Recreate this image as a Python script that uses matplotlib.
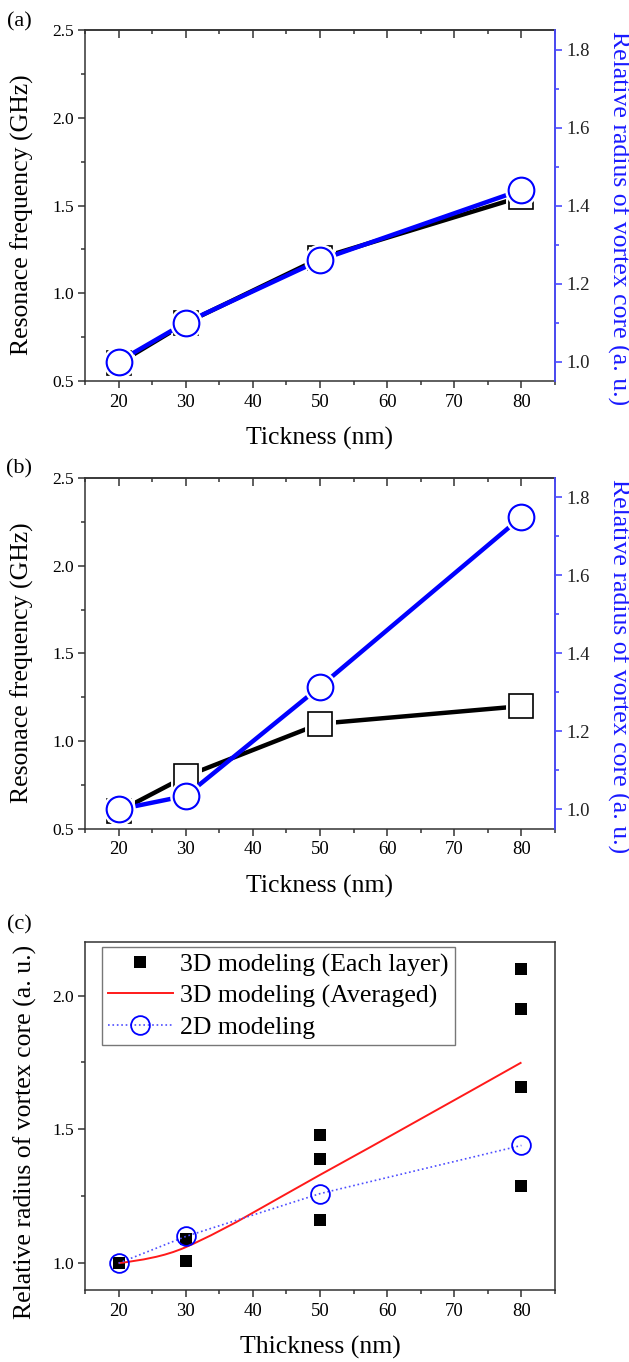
import numpy as np
import matplotlib
matplotlib.use('Agg')
import matplotlib.pyplot as plt
from matplotlib.ticker import MultipleLocator
from matplotlib.path import Path
from matplotlib.patches import PathPatch
from matplotlib.lines import Line2D

plt.rcParams['font.family'] = ['Liberation Serif', 'DejaVu Serif']

# данные
thickness = [20, 30, 50, 80]
freq_a = [0.60, 0.83, 1.20, 1.55]
radius_a = [1.00, 1.10, 1.26, 1.44]
freq_b = [0.60, 0.80, 1.10, 1.20]
radius_b = [1.00, 1.035, 1.315, 1.75]
layer_x = [20, 30, 30, 50, 50, 50, 80, 80, 80, 80]
layer_r = [1.00, 1.09, 1.01, 1.48, 1.39, 1.16, 2.10, 1.95, 1.66, 1.29]
avg_r = [1.00, 1.06, 1.33, 1.75]
radius_2d = [1.00, 1.10, 1.26, 1.44]

BLUE = '#0000ff'
AXBLUE = '#4a4aff'
SPINE = '#333333'
W, H = 629, 1362


def box(top, bottom, left=85, right=555):
    return [left / W, 1 - bottom / H, (right - left) / W, (bottom - top) / H]


def smooth_path(x, y):  # сплайн как в Origin, через кривые Безье
    x = np.asarray(x, float)
    y = np.asarray(y, float)
    d = np.diff(y) / np.diff(x)
    m = np.zeros(len(x))
    m[1:-1] = (y[2:] - y[:-2]) / (x[2:] - x[:-2])
    m[0] = (3 * d[0] - m[1]) / 2
    m[-1] = (3 * d[-1] - m[-2]) / 2
    verts = [(x[0], y[0])]
    codes = [Path.MOVETO]
    for i in range(len(x) - 1):
        h = x[i + 1] - x[i]
        verts += [(x[i] + h / 3, y[i] + m[i] * h / 3),
                  (x[i + 1] - h / 3, y[i + 1] - m[i + 1] * h / 3),
                  (x[i + 1], y[i + 1])]
        codes += [Path.CURVE4] * 3
    return Path(verts, codes)


def base_axes(ax, top_ticks=True):
    ax.set_xlim(15, 85)
    ax.set_xticks([20, 30, 40, 50, 60, 70, 80])
    ax.xaxis.set_minor_locator(MultipleLocator(5))
    for s in ax.spines.values():
        s.set_linewidth(1.1)
        s.set_color(SPINE)
    ax.tick_params(axis='x', which='major', direction='out', length=5, width=1.1,
                   color=SPINE, labelsize=13.5, pad=4)
    ax.tick_params(axis='x', which='minor', direction='out', length=3, width=1.1, color=SPINE)
    ax.tick_params(axis='y', which='major', direction='out', length=5, width=1.1,
                   color=SPINE, labelsize=12.5, pad=3)
    ax.tick_params(axis='y', which='minor', direction='out', length=3, width=1.1, color=SPINE)
    if top_ticks:
        sec = ax.secondary_xaxis('top')
        sec.set_xticks([20, 30, 40, 50, 60, 70, 80])
        sec.xaxis.set_minor_locator(MultipleLocator(5))
        sec.tick_params(which='major', direction='in', length=6, width=1.1, color=SPINE,
                        labeltop=False)
        sec.tick_params(which='minor', direction='in', length=3, width=1.1, color=SPINE)
        sec.spines['top'].set_linewidth(1.1)
        sec.spines['top'].set_color(SPINE)


def twin_panel(fig, rect, freq, radius, letter, letter_y):
    ax = fig.add_axes(rect)
    base_axes(ax)
    ax.set_ylim(0.5, 2.5)
    ax.set_yticks([0.5, 1.0, 1.5, 2.0, 2.5])
    ax.yaxis.set_minor_locator(MultipleLocator(0.25))
    ax.plot(thickness, freq, color='black', lw=3.2, solid_capstyle='round', zorder=1)
    ax.plot(thickness, freq, ls='none', marker='s', ms=17, mfc='white', mec='white', mew=5, zorder=2)
    ax.plot(thickness, freq, ls='none', marker='s', ms=17, mfc='white', mec='black', mew=1.2, zorder=3)
    ax.set_xlabel('Tickness (nm)', fontsize=18.5, va='center')
    ax.xaxis.set_label_coords(0.5, -0.165)
    ax.set_ylabel('Resonace frequency (GHz)', fontsize=18.5, va='center')
    ax.yaxis.set_label_coords(-0.134, 0.475)

    ax2 = ax.twinx()
    ax2.set_ylim(0.95, 1.85)
    ax2.set_yticks([1.0, 1.2, 1.4, 1.6, 1.8])
    ax2.yaxis.set_minor_locator(MultipleLocator(0.1))
    for k in ['left', 'top', 'bottom']:
        ax2.spines[k].set_visible(False)
    ax2.spines['right'].set_color(AXBLUE)
    ax2.spines['right'].set_linewidth(1.3)
    ax2.tick_params(axis='y', which='major', direction='out', length=5, width=1.2,
                    color=AXBLUE, labelcolor='#222222', labelsize=13.5, pad=3)
    ax2.tick_params(axis='y', which='minor', direction='out', length=3, width=1.2, color=AXBLUE)
    ax2.plot(thickness, radius, color=BLUE, lw=3.2, solid_capstyle='round', zorder=1)
    ax2.plot(thickness, radius, ls='none', marker='o', ms=18.5, mfc='white', mec='white', mew=5, zorder=2)
    ax2.plot(thickness, radius, ls='none', marker='o', ms=18.5, mfc='white', mec=BLUE, mew=1.5, zorder=3)
    ax2.set_ylabel('Relative radius of vortex core (a. u.)', fontsize=18.5, color='#1a1aff',
                   rotation=270, va='center', ha='center')
    ax2.yaxis.set_label_coords(1.135, 0.465)
    fig.text(19 / W, 1 - letter_y / H, letter, fontsize=16, ha='center', va='center')
    return ax, ax2


fig = plt.figure(figsize=(W / 100, H / 100), dpi=100)

twin_panel(fig, box(30, 381), freq_a, radius_a, '(a)', 22)
twin_panel(fig, box(478, 829), freq_b, radius_b, '(b)', 469)

# (c)
axc = fig.add_axes(box(942, 1290))
base_axes(axc, top_ticks=False)
axc.set_ylim(0.9, 2.2)
axc.set_yticks([1.0, 1.5, 2.0])
axc.yaxis.set_minor_locator(MultipleLocator(0.25))
sq, = axc.plot(layer_x, layer_r, ls='none', marker='s', ms=8.8, color='black', mew=0, zorder=2,
               label='3D modeling (Each layer)')
axc.add_patch(PathPatch(smooth_path(thickness, avg_r), fill=False, edgecolor='#ff1a1a',
                        lw=1.4, zorder=3))
red_proxy = Line2D([], [], color='#ff1a1a', lw=1.4, label='3D modeling (Averaged)')
circ, = axc.plot(thickness, radius_2d, ls=':', lw=1.2, color='#4d4dff', marker='o', ms=13.5,
                 mfc='none', mec=BLUE, mew=1.3, zorder=4, label='2D modeling')
leg = axc.legend(handles=[sq, red_proxy, circ], loc='upper left', bbox_to_anchor=(0.036, 0.986),
                 borderaxespad=0, fontsize=18.5, frameon=True, fancybox=False, edgecolor='#555555',
                 handlelength=2.5, handletextpad=0.3, labelspacing=0.3, borderpad=0.25)
leg.get_frame().set_linewidth(1.0)
axc.set_xlabel('Thickness (nm)', fontsize=18.5, va='center')
axc.xaxis.set_label_coords(0.5, -0.164)
axc.set_ylabel('Relative radius of vortex core (a. u.)', fontsize=18.5, va='center')
axc.yaxis.set_label_coords(-0.128, 0.455)
fig.text(19 / W, 1 - 925 / H, '(c)', fontsize=16, ha='center', va='center')

fig.savefig('out.png', dpi=100)
